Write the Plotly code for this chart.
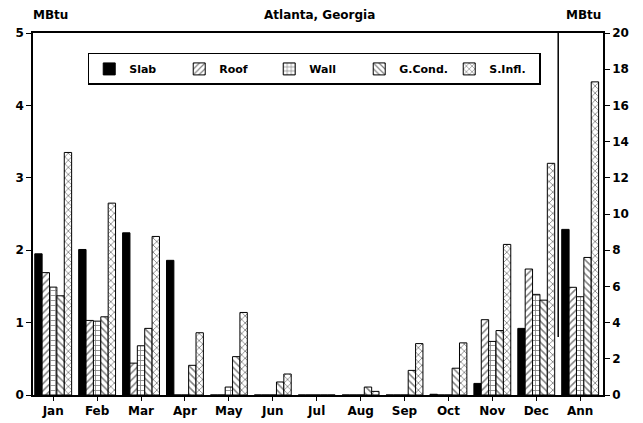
import plotly.graph_objects as go

months = ["Jan", "Feb", "Mar", "Apr", "May", "Jun", "Jul", "Aug", "Sep", "Oct", "Nov", "Dec"]
annual_label = "Ann"
series_names = ["Slab", "Roof", "Wall", "G.Cond.", "S.Infl."]

slab   = [1.95, 2.01, 2.24, 1.86, 0.0, 0.0, 0.0, 0.0, 0.0, 0.01, 0.16, 0.92]
roof   = [1.69, 1.03, 0.44, 0.0, 0.0, 0.0, 0.0, 0.0, 0.0, 0.0, 1.04, 1.74]
wall   = [1.49, 1.02, 0.68, 0.0, 0.11, 0.0, 0.0, 0.0, 0.0, 0.0, 0.74, 1.39]
gcond  = [1.37, 1.08, 0.92, 0.41, 0.53, 0.18, 0.0, 0.11, 0.34, 0.37, 0.89, 1.31]
sinfl  = [3.35, 2.65, 2.19, 0.86, 1.14, 0.29, 0.0, 0.05, 0.71, 0.72, 2.08, 3.20]

annual = [9.15, 5.95, 5.43, 7.6, 17.3]  # Slab, Roof, Wall, G.Cond., S.Infl. (right axis)

monthly = [slab, roof, wall, gcond, sinfl]
patterns = ["", "/", "+", "\\", "x"]

FONT = "DejaVu Sans"
bw = 0.168
start = -0.42

month_x = list(range(len(months)))
ann_x = [len(months)]


def marker_for(pat):
    if pat == "":
        return dict(color="black", line=dict(color="black", width=1))
    return dict(color="white", line=dict(color="black", width=1),
                pattern=dict(shape=pat, fgcolor="black", bgcolor="white", size=5, solidity=0.3))


fig = go.Figure()
for i, (name, vals, pat) in enumerate(zip(series_names, monthly, patterns)):
    fig.add_trace(go.Bar(
        x=month_x, y=vals, name=name, yaxis="y",
        width=bw, offset=start + i * bw,
        marker=marker_for(pat), showlegend=True,
    ))
    fig.add_trace(go.Bar(
        x=ann_x, y=[annual[i]], name=name, yaxis="y2",
        width=bw, offset=start + i * bw,
        marker=marker_for(pat), showlegend=False,
    ))

fig.add_shape(type="line", xref="x", yref="paper", x0=11.5, x1=11.5, y0=0.16, y1=1,
              line=dict(color="black", width=1.5))

title_font = dict(family=FONT, size=12, color="black", weight="bold")
fig.add_annotation(text="MBtu", xref="paper", yref="paper", x=0.03, y=1.025, xanchor="center",
                   yanchor="bottom", showarrow=False, font=title_font)
fig.add_annotation(text="Atlanta, Georgia", xref="paper", yref="paper", x=0.503, y=1.025, xanchor="center",
                   yanchor="bottom", showarrow=False, font=title_font)
fig.add_annotation(text="MBtu", xref="paper", yref="paper", x=0.965, y=1.025, xanchor="center",
                   yanchor="bottom", showarrow=False, font=title_font)

tick_font = dict(family=FONT, size=12, color="black", weight="bold")

# the page body adds an 8px margin, so the figure is sized to fit the window
fig.update_layout(
    width=635, height=415,
    margin=dict(l=25, r=40, t=25, b=28, autoexpand=False),
    paper_bgcolor="white", plot_bgcolor="white",
    barmode="overlay",
    font=dict(family=FONT, color="black"),
    xaxis=dict(
        range=[-0.46, 12.52], automargin=False,
        tickmode="array", tickvals=month_x + ann_x, ticktext=months + [annual_label],
        ticks="outside", ticklen=4, tickcolor="black",
        showline=True, linecolor="black", mirror=True, linewidth=1.5,
        showgrid=False, zeroline=False,
        tickfont=tick_font,
    ),
    yaxis=dict(
        range=[0, 5], dtick=1, ticks="outside", ticklen=5, tickcolor="black", automargin=False,
        showline=True, linecolor="black", linewidth=1.5,
        showgrid=False, zeroline=False,
        tickfont=tick_font,
    ),
    yaxis2=dict(
        range=[0, 20], dtick=2, ticks="outside", ticklen=5, tickcolor="black", automargin=False,
        overlaying="y", side="right",
        showline=True, linecolor="black", linewidth=1.5,
        showgrid=False, zeroline=False,
        tickfont=tick_font,
    ),
    legend=dict(
        orientation="h", x=0.096, y=0.945, xanchor="left", yanchor="top",
        bordercolor="black", borderwidth=1.5, bgcolor="white",
        font=dict(family=FONT, size=11, color="black", weight="bold"),
        entrywidth=45, itemwidth=30,
    ),
)

fig.write_html("out.html")
